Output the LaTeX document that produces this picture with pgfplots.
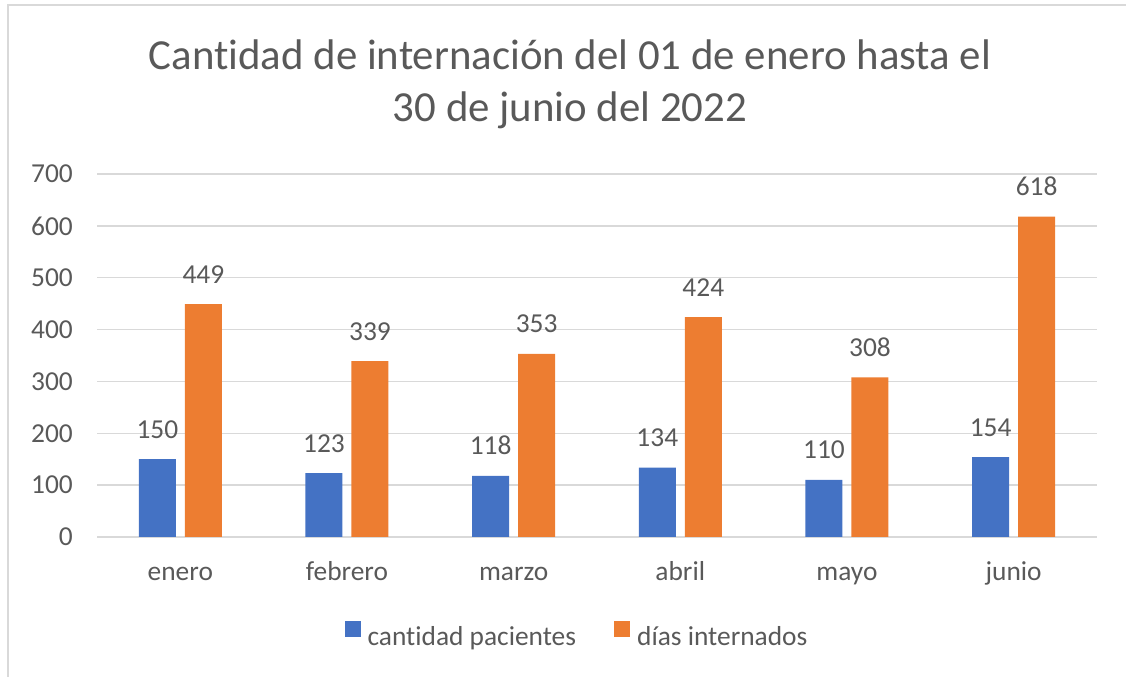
\documentclass[border=0pt]{standalone}
\usepackage{pgfplots}
\pgfplotsset{compat=1.18}
\usepackage{fontspec}
\setmainfont{Carlito}[Ligatures={NoCommon}]
\definecolor{barblue}{HTML}{4472C4}
\definecolor{barorange}{HTML}{ED7D31}
\definecolor{gridgray}{HTML}{D9D9D9}
\definecolor{txtgray}{HTML}{595959}
\begin{document}
\begin{tikzpicture}
\useasboundingbox (0,0) rectangle (1126bp,677bp);
\draw[gridgray, line width=2bp] (8bp,0) -- (8bp,672bp) -- (1126bp,672bp);
\node[anchor=base, text=txtgray, font=\fontsize{43}{50}\selectfont, inner sep=0pt] at (570bp,607bp) {Cantidad de internación del 01 de enero hasta el};
\node[anchor=base, text=txtgray, font=\fontsize{43}{50}\selectfont, inner sep=0pt] at (570bp,555bp) {30 de junio del 2022};
\begin{axis}[
  at={(97bp,140bp)}, anchor=south west,
  scale only axis, width=1000bp, height=363bp,
  xmin=-0.5, xmax=5.5, ymin=0, ymax=700,
  ybar=9bp, bar width=37bp,
  axis line style={draw=none},
  major tick length=0pt,
  ymajorgrids, grid style={gridgray, line width=1.5bp},
  ytick={0,100,...,700},
  xtick={0,...,5},
  xticklabels={enero,febrero,marzo,abril,mayo,junio},
  tick label style={text=txtgray, font=\fontsize{27.5}{32}\selectfont},
  yticklabel style={anchor=east, inner sep=0pt, xshift=-24bp},
  xticklabel style={anchor=base, inner sep=0pt, yshift=-43bp},
  /pgf/number format/assume math mode=true,
  nodes near coords,
  every node near coord/.append style={anchor=base, inner sep=0pt, yshift=21bp, text=txtgray, font=\fontsize{27.5}{32}\selectfont},
  legend columns=2,
  legend style={at={(0.479,-0.267)}, anchor=center, draw=none, fill=none, inner sep=0pt,
    font=\fontsize{27.5}{32}\selectfont, text=txtgray, nodes={inner sep=0pt},
    /tikz/every odd column/.append style={column sep=7bp},
    /tikz/every even column/.append style={column sep=38bp}},
  legend image code/.code={\fill[#1] (0bp,0bp) rectangle (16bp,16bp);},
]
\addplot[fill=barblue, draw=none] coordinates {(0,150) (1,123) (2,118) (3,134) (4,110) (5,154)};
\addplot[fill=barorange, draw=none] coordinates {(0,449) (1,339) (2,353) (3,424) (4,308) (5,618)};
\legend{cantidad pacientes, días internados}
\end{axis}
\end{tikzpicture}
\end{document}
